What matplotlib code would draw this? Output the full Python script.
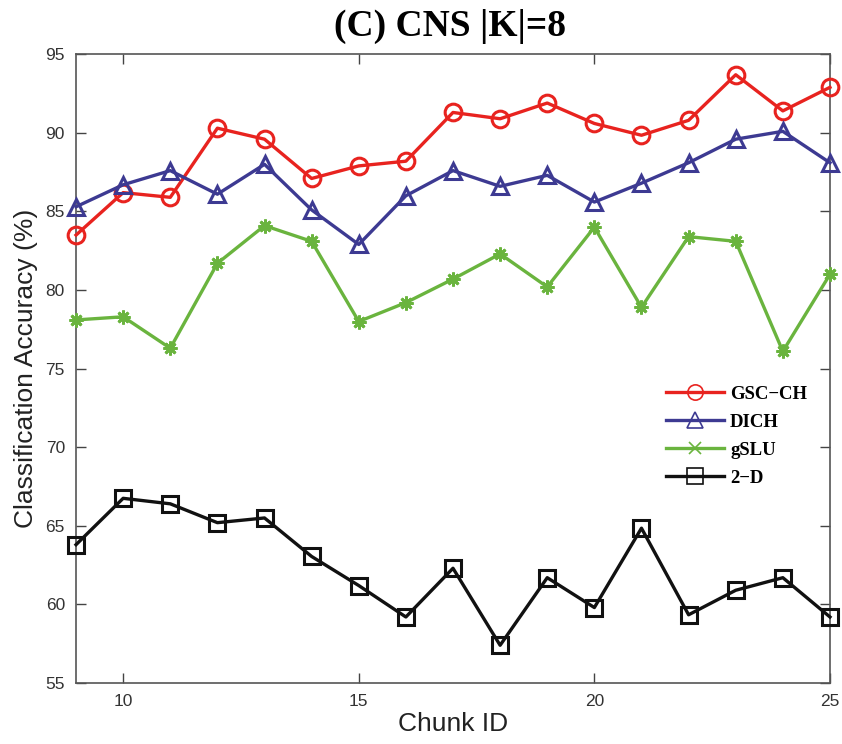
import matplotlib
matplotlib.use("Agg")
import matplotlib.pyplot as plt
from matplotlib.lines import Line2D

chunk_id = list(range(9, 26))
gsc_ch = [83.5, 86.2, 85.9, 90.3, 89.6, 87.1, 87.9, 88.2, 91.3, 90.9, 91.9, 90.6, 89.85, 90.8, 93.7, 91.4, 92.9]
dich = [85.3, 86.7, 87.6, 86.1, 88.0, 85.1, 82.9, 86.0, 87.6, 86.6, 87.3, 85.6, 86.8, 88.1, 89.6, 90.1, 88.1]
gslu = [78.1, 78.3, 76.3, 81.7, 84.1, 83.1, 78.0, 79.2, 80.7, 82.3, 80.2, 84.0, 78.9, 83.4, 83.1, 76.1, 81.0]
two_d = [63.8, 66.75, 66.4, 65.2, 65.5, 63.05, 61.2, 59.2, 62.3, 57.4, 61.7, 59.8, 64.85, 59.34, 60.9, 61.7, 59.2]

series_names = ["GSC\u2212CH", "DICH", "gSLU", "2\u2212D"]
colors = ["#e8231f", "#3d3a92", "#6ab43e", "#111111"]
markers = ["o", "^", (8, 2, 0), "s"]
legend_markers = ["o", "^", "x", "s"]
x_ticks = [10, 15, 20, 25]
y_ticks = [55, 60, 65, 70, 75, 80, 85, 90, 95]

fig = plt.figure(figsize=(8.42, 7.44), dpi=100)
ax = fig.add_axes([0.0903, 0.082, 0.8954, 0.845])

for vals, c, m in zip([gsc_ch, dich, gslu, two_d], colors, markers):
    is_ast = isinstance(m, tuple)
    ax.plot(chunk_id, vals, color=c, marker=m, markersize=10 if is_ast else 12,
            markerfacecolor="none", markeredgecolor=c, markeredgewidth=2.0 if is_ast else 2.2,
            linewidth=2.4, clip_on=False, zorder=3)

ax.set_xlim(9, 25)
ax.set_ylim(55, 95)
ax.set_xticks(x_ticks)
ax.set_yticks(y_ticks)
ax.tick_params(direction="in", top=True, right=True, length=7, width=1,
               labelsize=12.5, color="#444444", labelcolor="#333333", pad=8)
for lab in ax.get_xticklabels() + ax.get_yticklabels():
    lab.set_fontfamily("Liberation Sans")
for s in ax.spines.values():
    s.set_color("#555555")
    s.set_linewidth(1.2)

ax.set_xlabel("Chunk ID", fontsize=19, fontfamily="Liberation Sans", labelpad=2, color="#222222")
ax.set_ylabel("Classification Accuracy (%)", fontsize=19, fontfamily="Liberation Sans",
              labelpad=5, color="#222222")
fig.text(0.535, 0.965, "(C) CNS |K|=8", ha="center", va="center",
         fontsize=27, fontweight="bold", fontfamily="Liberation Serif")

handles = [Line2D([0], [0], color=c, marker=m, markersize=11 if m != "x" else 9,
                  markerfacecolor="none", markeredgecolor=c, markeredgewidth=1.2, linewidth=2.4)
           for c, m in zip(colors, legend_markers)]
leg = ax.legend(handles, series_names, loc="upper left", bbox_to_anchor=(0.773, 0.485),
                frameon=False, handlelength=3.1, handletextpad=0.3, labelspacing=0.58,
                prop={"family": "Liberation Serif", "weight": "bold", "size": 13.5},
                borderaxespad=0)

fig.savefig("out.png", dpi=100)
